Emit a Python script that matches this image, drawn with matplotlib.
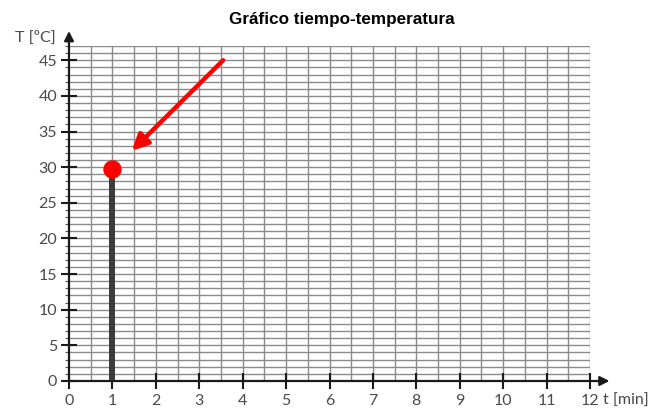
import numpy as np
import matplotlib
matplotlib.use("Agg")
import matplotlib.pyplot as plt

# datos
tiempos = [1]
temperaturas = [29.7]
x_ticks = list(range(0, 13))
y_ticks = list(range(0, 50, 5))
flecha_inicio = (3.55, 45)
flecha_fin = (1.45, 32.3)

gris = '#3c3c3c'
fuente = 'Lato'
color_txt = '#4a4a4a'

fig = plt.figure(figsize=(6.61, 4.08), dpi=100)
ax = fig.add_axes([69/661, 27/408, 521/661, 335/408])
ax.set_xlim(0, 12)
ax.set_ylim(0, 47)

# cuadricula
for xv in np.arange(0.5, 12.01, 0.5):
    ax.axvline(xv, color='#8a8a8a', lw=1.0, zorder=1)
for yv in range(1, 48):
    ax.axhline(yv, color='#8a8a8a', lw=1.0, zorder=1)

for s in ax.spines.values():
    s.set_visible(False)

# ejes con flecha
ax.annotate('', xy=(12.45, 0), xytext=(0, 0), xycoords='data',
            arrowprops=dict(arrowstyle='-|>', color='#1a1a1a', lw=1.6,
                            mutation_scale=14, shrinkA=0, shrinkB=0),
            annotation_clip=False, zorder=4)
ax.annotate('', xy=(0, 49.1), xytext=(0, 0), xycoords='data',
            arrowprops=dict(arrowstyle='-|>', color='#1a1a1a', lw=1.6,
                            mutation_scale=14, shrinkA=0, shrinkB=0),
            annotation_clip=False, zorder=4)

ax.set_xticks(x_ticks)
ax.set_yticks(y_ticks)
ax.set_yticks(range(0, 48), minor=True)
ax.tick_params(axis='x', direction='inout', length=11, width=1.5, color='#1a1a1a',
               labelsize=11.5, labelcolor=color_txt, pad=4)
ax.tick_params(axis='y', direction='inout', length=11, width=1.5, color='#1a1a1a',
               labelsize=11.5, labelcolor=color_txt, pad=3)
ax.tick_params(axis='y', which='minor', direction='out', length=3, width=0.8, color='#555555')
for lab in ax.get_xticklabels() + ax.get_yticklabels():
    lab.set_fontfamily(fuente)

# barra y punto
ax.bar(tiempos, temperaturas, width=0.14, color=gris, zorder=3)
ax.scatter(tiempos, temperaturas, s=150, color='#ff0000', zorder=5, clip_on=False)

# flecha roja
ax.annotate('', xy=flecha_fin, xytext=flecha_inicio,
            arrowprops=dict(arrowstyle='-|>', color='#ff0000', lw=3.2,
                            mutation_scale=24, shrinkA=0, shrinkB=0),
            zorder=6)

fig.text(15/661, 1 - 42/408, 'T [ºC]', fontsize=11.5, color=color_txt, family=fuente, va='baseline')
fig.text(603/661, 1 - 405/408, 't [min]', fontsize=11.5, color=color_txt, family=fuente, va='baseline')
fig.text(342/661, 1 - 24/408, 'Gráfico tiempo-temperatura', fontsize=12.3, fontweight='bold',
         family='Liberation Sans', ha='center', va='baseline')

fig.savefig('out.png', dpi=100)
